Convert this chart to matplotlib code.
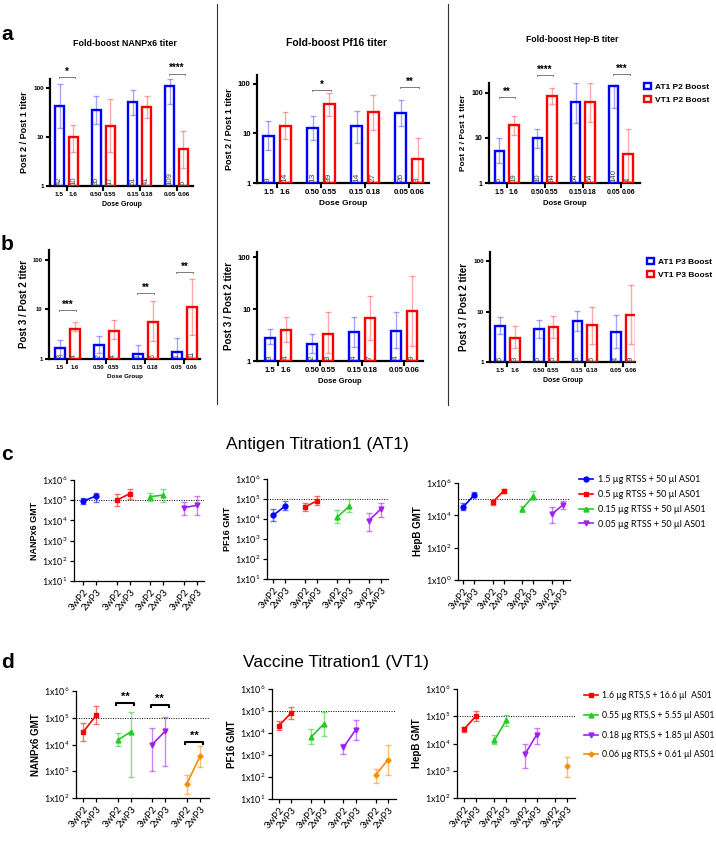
import numpy as np
import matplotlib
matplotlib.use("Agg")
import matplotlib.pyplot as plt
from matplotlib.lines import Line2D
from matplotlib.colors import to_rgba
from matplotlib.ticker import FixedLocator, NullLocator

plt.rcParams['font.family'] = ['Liberation Sans', 'DejaVu Sans']
plt.rcParams['mathtext.fontset'] = 'custom'
plt.rcParams['mathtext.rm'] = 'Lato'
plt.rcParams['mathtext.it'] = 'Lato:italic'
plt.rcParams['mathtext.bf'] = 'Lato:bold'

# ---------------- data ----------------
dose_at1 = ["1.5", "0.50", "0.15", "0.05"]
dose_vt1 = ["1.6", "0.55", "0.18", "0.06"]

# a: fold boost Post 2 / Post 1
nanp_p2_at1 = [42, 35, 51, 109]
nanp_p2_at1_lo = [15, 18, 28, 47]
nanp_p2_at1_hi = [120, 67, 90, 148]
nanp_p2_vt1 = [10, 17, 41, 5.6]
nanp_p2_vt1_lo = [5, 5, 24, 2.3]
nanp_p2_vt1_hi = [17.5, 58, 67, 13]

pf16_p2_at1 = [9, 13, 14, 26]
pf16_p2_at1_lo = [4.6, 7.3, 6.3, 14]
pf16_p2_at1_hi = [17.5, 23, 28, 47]
pf16_p2_vt1 = [14, 39, 27, 3]
pf16_p2_vt1_lo = [7.6, 23, 12, 1.0]
pf16_p2_vt1_hi = [27, 65, 60, 8]

hepb_p2_at1 = [5.1, 10, 64, 140]
hepb_p2_at1_lo = [2.8, 6, 22, 47]
hepb_p2_at1_hi = [9.8, 16, 170, 150]
hepb_p2_vt1 = [19, 84, 64, 4.3]
hepb_p2_vt1_lo = [11.5, 56, 23, 1.1]
hepb_p2_vt1_hi = [31, 130, 170, 16]

# b: fold boost Post 3 / Post 2
nanp_p3_at1 = [1.66, 1.9, 1.28, 1.38]
nanp_p3_at1_lo = [1.2, 1.3, 1.0, 1.0]
nanp_p3_at1_hi = [2.4, 2.9, 1.9, 2.6]
nanp_p3_vt1 = [4.1, 3.6, 5.7, 11]
nanp_p3_vt1_lo = [3.7, 2.5, 2.3, 3.1]
nanp_p3_vt1_hi = [5.6, 6.2, 14.5, 41]

pf16_p3_at1 = [2.8, 2.1, 3.6, 3.8]
pf16_p3_at1_lo = [2.1, 1.4, 1.9, 1.75]
pf16_p3_at1_hi = [4.1, 3.3, 7.1, 8.6]
pf16_p3_vt1 = [3.9, 3.3, 6.6, 9.1]
pf16_p3_vt1_lo = [2.3, 1.4, 2.5, 1.95]
pf16_p3_vt1_hi = [7, 8.7, 18, 44]

hepb_p3_at1 = [5.2, 4.6, 6.4, 3.95]
hepb_p3_at1_lo = [3.6, 3.0, 4.1, 1.9]
hepb_p3_at1_hi = [7.8, 6.7, 10.1, 8.7]
hepb_p3_vt1 = [3.04, 4.96, 5.35, 8.6]
hepb_p3_vt1_lo = [1.9, 3.0, 2.3, 2.3]
hepb_p3_vt1_hi = [5.1, 8.2, 12.4, 34]

# significance marks (group index, bracket level, text)
sig_a_nanp = ([0, 3], [167, 195], ["*", "****"])
sig_a_pf16 = ([1, 3], [75, 87], ["*", "**"])
sig_a_hepb = ([0, 1, 3], [81, 251, 264], ["**", "****", "***"])
sig_b_nanp = ([0, 2, 3], [9.8, 21.6, 57], ["***", "**", "**"])

# c: Antigen Titration1 GMT (per dose group: [3wP2, 2wP3])
timepoints = ["3wP2", "2wP3"]
at1_labels = ["1.5 µg RTSS + 50 µl AS01", "0.5 µg RTSS + 50 µl AS01",
              "0.15 µg RTSS + 50 µl AS01", "0.05 µg RTSS + 50 µl AS01"]
c_nanp_gmt = [[9.0e4, 1.6e5], [1.0e5, 2.1e5], [1.5e5, 1.8e5], [4.3e4, 5.6e4]]
c_nanp_lo = [[6.5e4, 8.3e4], [5.0e4, 1.2e5], [9.0e4, 8.0e4], [1.8e4, 1.8e4]]
c_nanp_hi = [[1.3e5, 2.3e5], [2.0e5, 3.5e5], [2.3e5, 3.5e5], [8.2e4, 1.6e5]]
c_pf16_gmt = [[1.5e4, 4.6e4], [4.0e4, 8.2e4], [1.2e4, 4.3e4], [8.3e3, 3.2e4]]
c_pf16_lo = [[8.0e3, 2.7e4], [2.6e4, 5.2e4], [6.3e3, 2.3e4], [2.6e3, 1.25e4]]
c_pf16_hi = [[3.2e4, 8.0e4], [6.3e4, 1.36e5], [2.9e4, 1.0e5], [2.0e4, 6.3e4]]
c_hepb_gmt = [[3.2e4, 1.86e5], [6.5e4, 3.3e5], [2.4e4, 1.6e5], [1.17e4, 4.4e4]]
c_hepb_lo = [[2.0e4, 1.3e5], [4.5e4, 2.4e5], [1.6e4, 9.0e4], [3.2e3, 2.4e4]]
c_hepb_hi = [[5.6e4, 2.6e5], [9.0e4, 4.4e5], [3.9e4, 3.1e5], [3.5e4, 7.5e4]]

# d: Vaccine Titration1 GMT
vt1_labels = ["1.6 µg RTS,S + 16.6 µl  AS01", "0.55 µg RTS,S + 5.55 µl AS01",
              "0.18 µg RTS,S + 1.85 µl AS01", "0.06 µg RTS,S + 0.61 µl AS01"]
d_nanp_gmt = [[2.9e4, 1.26e5], [1.45e4, 3.0e4], [1.0e4, 3.2e4], [3.3e2, 3.6e3]]
d_nanp_lo = [[1.33e4, 5.6e4], [8.7e3, 6.0e2], [1.0e3, 1.6e3], [1.4e2, 1.45e3]]
d_nanp_hi = [[6.1e4, 2.7e5], [2.6e4, 1.7e5], [4.0e4, 1.1e5], [7.5e2, 9.0e3]]
d_pf16_gmt = [[2.15e4, 8.4e4], [6.6e3, 2.5e4], [2.2e3, 1.4e4], [1.2e2, 6.1e2]]
d_pf16_lo = [[1.3e4, 4.5e4], [3.3e3, 7.3e3], [1.1e3, 4.6e3], [55, 1.2e2]]
d_pf16_hi = [[3.5e4, 1.6e5], [1.5e4, 9.0e4], [3.3e3, 3.8e4], [2.4e2, 3.0e3]]
d_hepb_gmt = [[3.3e4, 1.0e5], [1.3e4, 7.1e4], [4.0e3, 2.1e4], [np.nan, 1.5e3]]
d_hepb_lo = [[2.6e4, 6.6e4], [1.0e4, 4.3e4], [1.3e3, 1.0e4], [np.nan, 6.0e2]]
d_hepb_hi = [[4.0e4, 1.6e5], [2.0e4, 1.15e5], [1.0e4, 3.7e4], [np.nan, 3.3e3]]
sig_d_nanp = ([1, 2, 3], [3.5e5, 3.0e5, 1.2e4], ["**", "**", "**"])

# ---------------- figure ----------------
W, H = 716, 843
fig = plt.figure(figsize=(W / 100, H / 100), dpi=100)


def add_ax(l, t, r, b):
    return fig.add_axes([l / W, 1 - b / H, (r - l) / W, (b - t) / H])


BLUE = "#0000FF"
RED = "#FF0000"


def bar_panel(box, ytop_exp, xlim, at1, at1_lo, at1_hi, vt1, vt1_lo, vt1_hi,
              ylabel, sig=None, fs=5.0, lfs=6.5, dfs=5.0, nfs=5.8,
              off=0.19, width=0.25):
    ax = add_ax(*box)
    ax.set_yscale('log')
    x = np.arange(len(at1))
    handles = []
    for vals, lo, hi, sgn, col in [(at1, at1_lo, at1_hi, -1, BLUE),
                                   (vt1, vt1_lo, vt1_hi, 1, RED)]:
        vals = np.asarray(vals, float)
        lo = np.asarray(lo, float)
        hi = np.asarray(hi, float)
        xs = x + sgn * off
        ax.errorbar(xs, vals, yerr=[vals - lo, hi - vals], fmt='none',
                    ecolor=to_rgba(col, 0.35), elinewidth=1.0, capsize=2.5,
                    capthick=1.0, zorder=2)
        bc = ax.bar(xs, vals - 1, bottom=1, width=width, facecolor='none',
                    edgecolor=col, linewidth=1.7, zorder=3)
        handles.append(bc)
        for xi, v in zip(xs, vals):
            ax.text(xi, 1.04, f"{v:.0f}", rotation=90, ha='center',
                    va='bottom', fontsize=nfs, color='#444444', zorder=4)
    ax.set_ylim(1, 10 ** ytop_exp)
    ax.set_xlim(*xlim)
    ax.yaxis.set_major_locator(FixedLocator([1, 10, 100]))
    ax.yaxis.set_minor_locator(NullLocator())
    ax.set_yticklabels(["1", "10", "100"], fontsize=fs, fontweight='bold')
    ax.set_xticks(np.concatenate([x - off, x + off]))
    ax.set_xticklabels(dose_at1 + dose_vt1, fontsize=fs, fontweight='bold')
    ax.set_xticks(x, minor=True)
    ax.tick_params(axis='x', which='major', length=0, pad=4)
    ax.tick_params(axis='x', which='minor', length=3.5, width=1.5)
    ax.tick_params(axis='y', length=3, width=1.5, pad=1.5)
    for s in ['top', 'right']:
        ax.spines[s].set_visible(False)
    for s in ['left', 'bottom']:
        ax.spines[s].set_linewidth(1.6)
    ax.set_xlabel("Dose Group", fontsize=dfs, fontweight='bold', labelpad=3)
    ax.set_ylabel(ylabel, fontsize=lfs, fontweight='bold', labelpad=3)
    if sig is not None:
        for g, lev, txt in zip(*sig):
            x0, x1 = g - off - 0.02, g + off + 0.04
            ax.plot([x0, x0, x1, x1], [lev * 0.95, lev, lev, lev * 0.95],
                    color='#666666', lw=0.6, clip_on=False)
            ax.text((x0 + x1) / 2, lev * 1.02, txt, ha='center', va='bottom',
                    fontsize=7, fontweight='bold', clip_on=False)
    return ax, handles


a1, _ = bar_panel((50, 79, 193, 186), 2.18, (-0.45, 3.45),
                  nanp_p2_at1, nanp_p2_at1_lo, nanp_p2_at1_hi,
                  nanp_p2_vt1, nanp_p2_vt1_lo, nanp_p2_vt1_hi,
                  "Post 2 / Post 1 titer", sig=sig_a_nanp, fs=4.6, lfs=6.5,
                  dfs=5.0, nfs=5.6)
a2, _ = bar_panel((257, 75, 429, 183), 2.18, (-0.45, 3.45),
                  pf16_p2_at1, pf16_p2_at1_lo, pf16_p2_at1_hi,
                  pf16_p2_vt1, pf16_p2_vt1_lo, pf16_p2_vt1_hi,
                  "Post 2 / Post 1 titer", sig=sig_a_pf16, fs=5.6, lfs=6.5,
                  dfs=6.0, nfs=6.0)
a3, h3 = bar_panel((489, 83, 640, 183), 2.22, (-0.46, 3.5),
                   hepb_p2_at1, hepb_p2_at1_lo, hepb_p2_at1_hi,
                   hepb_p2_vt1, hepb_p2_vt1_lo, hepb_p2_vt1_hi,
                   "Post 2 / Post 1 titer", sig=sig_a_hepb, fs=5.0, lfs=6.0,
                   dfs=5.5, nfs=5.6)
b1, _ = bar_panel((49, 250, 200, 359), 2.2, (-0.47, 3.4),
                  nanp_p3_at1, nanp_p3_at1_lo, nanp_p3_at1_hi,
                  nanp_p3_vt1, nanp_p3_vt1_lo, nanp_p3_vt1_hi,
                  "Post 3 / Post 2 titer", sig=sig_b_nanp, fs=4.2, lfs=7.0,
                  dfs=4.5, nfs=5.0)
b2, _ = bar_panel((257, 252, 423, 361), 2.1, (-0.5, 3.45),
                  pf16_p3_at1, pf16_p3_at1_lo, pf16_p3_at1_hi,
                  pf16_p3_vt1, pf16_p3_vt1_lo, pf16_p3_vt1_hi,
                  "Post 3 / Post 2 titer", fs=5.6, lfs=7.0, dfs=5.5, nfs=6.0)
b3, h6 = bar_panel((490, 252, 635, 362), 2.18, (-0.45, 3.3),
                   hepb_p3_at1, hepb_p3_at1_lo, hepb_p3_at1_hi,
                   hepb_p3_vt1, hepb_p3_vt1_lo, hepb_p3_vt1_hi,
                   "Post 3 / Post 2 titer", fs=4.6, lfs=7.0, dfs=5.0, nfs=5.6)

fig.text(125 / W, 1 - 44 / H, "Fold-boost NANPx6 titer", ha='center', va='center',
         fontsize=6.4, fontweight='bold')
fig.text(337 / W, 1 - 43 / H, "Fold-boost Pf16 titer", ha='center', va='center',
         fontsize=7.5, fontweight='bold')
fig.text(572 / W, 1 - 40 / H, "Fold-boost Hep-B titer", ha='center', va='center',
         fontsize=6.2, fontweight='bold')

leg_kw = dict(loc='upper left', bbox_transform=fig.transFigure, frameon=False,
              prop={'size': 6.0, 'weight': 'bold'}, handlelength=0.8,
              handleheight=0.8, handletextpad=0.5, labelspacing=0.6,
              borderpad=0, borderaxespad=0)
a3.legend(h3, ["AT1 P2 Boost", "VT1 P2 Boost"], bbox_to_anchor=(644 / W, 1 - 83 / H), **leg_kw)
b3.legend(h6, ["AT1 P3 Boost", "VT1 P3 Boost"], bbox_to_anchor=(647 / W, 1 - 258 / H), **leg_kw)

# separators
for xs_, y1 in [(217, 404), (448, 405)]:
    fig.add_artist(Line2D([xs_ / W, xs_ / W], [1 - 4 / H, 1 - y1 / H],
                          color='#333333', lw=0.8, transform=fig.transFigure))

# panel letters
for txt, yy in [("a", 34), ("b", 245), ("c", 454), ("d", 663)]:
    fig.text(1 / W, 1 - yy / H, txt, fontsize=15, fontweight='bold',
             ha='left', va='center')

# ---------------- GMT panels ----------------
C_COLORS = ["#0000FF", "#FF0000", "#22CC22", "#A020F0"]
C_MARKERS = ['o', 's', '^', 'v']
D_COLORS = ["#FF0000", "#22CC22", "#A020F0", "#FF8C00"]
D_MARKERS = ['s', '^', 'v', 'D']
PITCH = 2.6


def gmt_panel(box, gmt, lo, hi, colors, markers, ylo_exp, yhi_exp, ystep,
              xlim, ylabel, yfs=6.0, tfs=6.5):
    ax = add_ax(*box)
    ax.set_yscale('log')
    lines = []
    for g in range(len(gmt)):
        xs = np.arange(2) + g * PITCH
        v = np.asarray(gmt[g], float)
        l = np.asarray(lo[g], float)
        h = np.asarray(hi[g], float)
        ax.errorbar(xs, v, yerr=[v - l, h - v], fmt='none',
                    ecolor=to_rgba(colors[g], 0.55), elinewidth=1.0,
                    capsize=2.0, capthick=1.0, zorder=2)
        ln, = ax.plot(xs, v, color=colors[g], marker=markers[g],
                      ms=3.5 if markers[g] != 'D' else 2.6, lw=1.2, zorder=3)
        lines.append(ln)
    ax.axhline(1e5, color='black', ls=(0, (1, 1.5)), lw=0.7, zorder=1)
    ax.set_ylim(10 ** ylo_exp, 10 ** yhi_exp)
    ax.set_xlim(*xlim)
    exps = list(range(ylo_exp, yhi_exp + 1, ystep))
    ax.yaxis.set_major_locator(FixedLocator([10.0 ** e for e in exps]))
    ax.yaxis.set_minor_locator(NullLocator())
    ax.set_yticklabels([f"1x10$^{{{e}}}$" for e in exps], fontsize=tfs,
                       family='Lato')
    xt = np.concatenate([np.arange(2) + g * PITCH for g in range(len(gmt))])
    ax.set_xticks(xt)
    ax.set_xticklabels(timepoints * len(gmt), rotation=50, ha='right',
                       rotation_mode='anchor', fontsize=tfs + 0.5, family='Lato')
    ax.tick_params(length=3, width=0.9, pad=1.5)
    for s in ['top', 'right']:
        ax.spines[s].set_visible(False)
    for s in ['left', 'bottom']:
        ax.spines[s].set_linewidth(0.9)
    ax.set_ylabel(ylabel, fontsize=yfs, fontweight='bold', labelpad=2)
    return ax, lines


c1, _ = gmt_panel((74, 480, 204, 581), c_nanp_gmt, c_nanp_lo, c_nanp_hi,
                  C_COLORS, C_MARKERS, 1, 6, 1, (-0.7, 9.34), "NANPx6 GMT", yfs=6.5)
c2, _ = gmt_panel((267, 479, 388, 579), c_pf16_gmt, c_pf16_lo, c_pf16_hi,
                  C_COLORS, C_MARKERS, 1, 6, 1, (-0.5, 9.37), "PF16 GMT", yfs=6.5)
c3, cl = gmt_panel((458, 483, 570, 580), c_hepb_gmt, c_hepb_lo, c_hepb_hi,
                   C_COLORS, C_MARKERS, 0, 6, 2, (-0.44, 9.42), "HepB GMT", yfs=7.0)
d1, _ = gmt_panel((76, 691, 209, 798), d_nanp_gmt, d_nanp_lo, d_nanp_hi,
                  D_COLORS, D_MARKERS, 2, 6, 1, (-0.53, 9.48), "NANPx6 GMT", yfs=7.0)
d2, _ = gmt_panel((272, 689, 396, 799), d_pf16_gmt, d_pf16_lo, d_pf16_hi,
                  D_COLORS, D_MARKERS, 1, 6, 1, (-0.56, 9.45), "PF16 GMT", yfs=7.0)
d3, dl = gmt_panel((457, 689, 575, 798), d_hepb_gmt, d_hepb_lo, d_hepb_hi,
                   D_COLORS, D_MARKERS, 2, 6, 1, (-0.59, 9.47), "HepB GMT", yfs=7.0)

for g, lev, txt in zip(*sig_d_nanp):
    x0, x1 = g * PITCH - 0.1, g * PITCH + 1.25
    d1.plot([x0, x0, x1, x1], [lev * 0.8, lev, lev, lev * 0.8], color='black',
            lw=1.5, clip_on=False, solid_capstyle='butt')
    d1.text((x0 + x1) / 2, lev * 1.1, txt, ha='center', va='bottom',
            fontsize=8, fontweight='bold')

fig.text(317 / W, 1 - 445 / H, "Antigen Titration1 (AT1)", ha='center',
         va='center', fontsize=12.5)
fig.text(336 / W, 1 - 663 / H, "Vaccine Titration1 (VT1)", ha='center',
         va='center', fontsize=12.5)

fig.legend(cl, at1_labels, loc='upper left', bbox_to_anchor=(579 / W, 1 - 475 / H),
           frameon=False, prop={'family': 'Lato', 'size': 6.5}, handlelength=1.6,
           handletextpad=0.5, labelspacing=0.65, borderpad=0, borderaxespad=0)
fig.legend(dl, vt1_labels, loc='upper left', bbox_to_anchor=(584 / W, 1 - 691 / H),
           frameon=False, prop={'family': 'Lato', 'size': 6.2}, handlelength=1.6,
           handletextpad=0.5, labelspacing=1.25, borderpad=0, borderaxespad=0)

fig.savefig("out.png", dpi=100)
